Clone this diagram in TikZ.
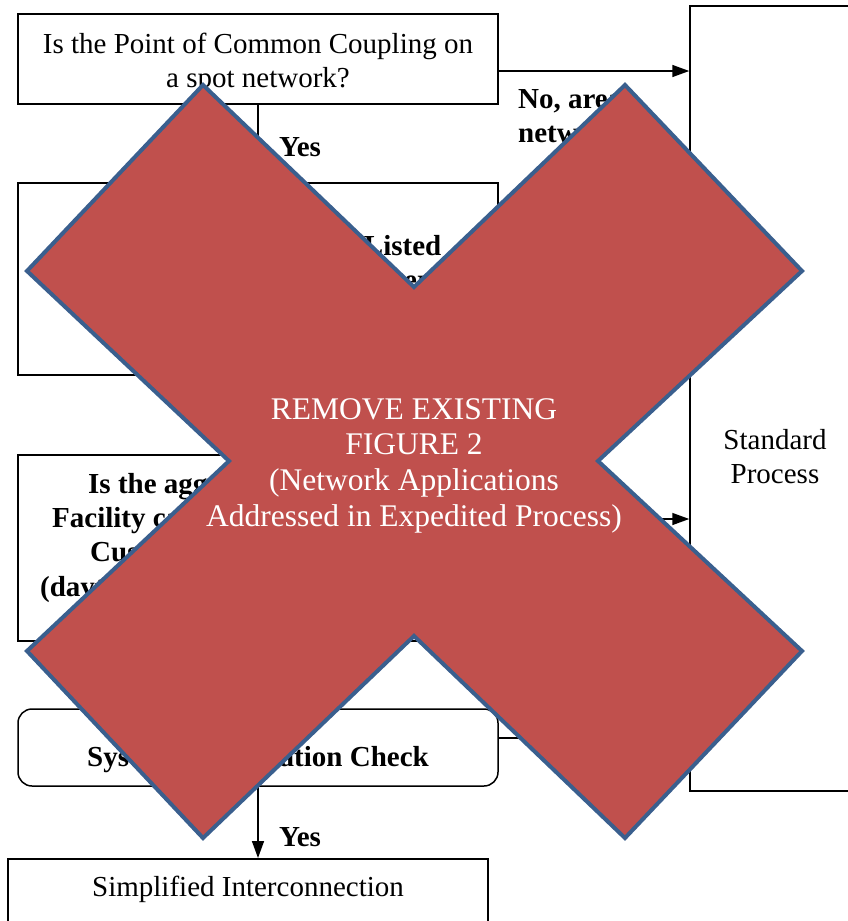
\documentclass[tikz,border=0pt]{standalone}
\usepackage{fontspec}
\setmainfont{Liberation Serif}
\usetikzlibrary{arrows.meta}
\definecolor{crossfill}{HTML}{C0504D}
\definecolor{crossedge}{HTML}{3A5F8E}
\newcommand\flowfont{\fontsize{29}{34}\selectfont}
\newcommand\crossfont{\fontsize{31.5}{35.7}\selectfont}
\begin{document}
\begin{tikzpicture}[x=1pt,y=-1pt,
  flowbox/.style={draw=black,line width=1.5pt,minimum width=480pt,inner sep=0pt,font=\flowfont,align=center},
  flowtext/.style={font=\flowfont,align=center,inner sep=0pt},
  boldline/.style={font=\flowfont\bfseries,inner sep=0pt,anchor=base west},
  answer/.style={font=\flowfont\bfseries,inner sep=0pt,align=left},
  arr/.style={line width=1.5pt,-{Triangle[length=17pt,width=12pt]}},
  crossshape/.style={fill=crossfill,draw=crossedge,line width=4pt,line join=miter},
  crosstext/.style={font=\crossfont,text=white,align=center,inner sep=0pt}]
\useasboundingbox (0,0) rectangle (848,921);

% flowchart boxes
\node[flowbox,minimum height=90pt] (q1) at (258,59) {};
\node[flowtext] (q1t) at (258,63) {Is the Point of Common Coupling on\\a spot network?};
\node[flowbox,minimum height=192pt] (q2) at (258,279) {};
\node[flowtext,font=\flowfont\bfseries] (q2t) at (258,283) {Is the Facility UL 1741 Listed\\and inverter-based with reverse\\power relays?};
\node[flowbox,minimum height=186pt] (q3) at (258,548) {};
\node[boldline] (q3a) at (88,493) {Is the aggre};
\node[boldline] (q3b) at (52,527) {Facility ca};
\node[boldline] (q3c) at (90,561) {Custo};
\node[boldline] (q3d) at (40,596) {(daytim};
\node[flowbox,minimum height=77pt,rounded corners=14pt] (q4) at (258,747.5) {};
\node[flowtext,font=\flowfont\bfseries] (q4t) at (258,759) {System Modification Check};
\node[flowbox,minimum height=100pt,anchor=north] (simp) at (248,858) {};
\node[flowtext] (simpt) at (248,889) {Simplified Interconnection};
\node[draw=black,line width=1.5pt,minimum width=170pt,minimum height=785pt,inner sep=0pt] (std) at (775,398.5) {};
\node[flowtext] (stdt) at (775,457) {Standard\\Process};

% connectors
\draw[arr] (q1.east |- 0,71) -- (std.west |- 0,71);
\draw[arr] (q1.south) -- (q2.north);
\draw[arr] (q3.east |- 0,519) -- (std.west |- 0,519);
\draw[arr] (q4.east |- 0,738) -- (std.west |- 0,738);
\draw[arr] (q4.south) -- (q4.south |- simp.north);

% answers
\node[answer,anchor=west] (noarea) at (518,116) {No, area\\network};
\node[answer] (yes1) at (300,147) {Yes};
\node[answer] (yes2) at (300,837) {Yes};

% cross drawn over the whole chart
\draw[crossshape] (203,85) -- (414,287) -- (625,85) -- (802,271) -- (598,461)
  -- (802,651) -- (625,838) -- (414,636) -- (203,838) -- (27,651)
  -- (229,461) -- (27,271) -- cycle;
\node[crosstext] (notice) at (414,465.5) {REMOVE EXISTING\\FIGURE 2\\(Network Applications\\Addressed in Expedited Process)};
\end{tikzpicture}
\end{document}
